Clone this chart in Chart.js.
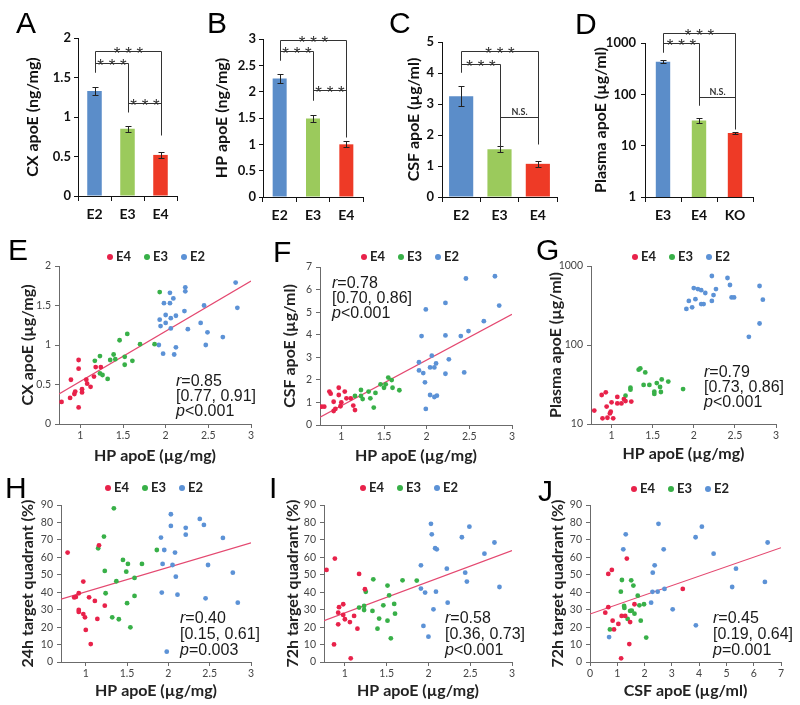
<!DOCTYPE html>
<html>
<head>
<meta charset="utf-8">
<script src="https://cdn.jsdelivr.net/npm/chart.js@4.4.1/dist/chart.umd.min.js"></script>
<style>
  html, body { margin: 0; background: #fff; }
  body { position: relative; width: 800px; height: 705px; overflow: hidden; }
  canvas { position: absolute; }
  .letter { position: absolute; font: 30px 'Liberation Sans', Arial, sans-serif; line-height: 30px; color: #000; }
  .legend { position: absolute; font: bold 13px Lato, sans-serif; color: #222; white-space: nowrap; line-height: 14px; }
  .legend .item { display: inline-block; width: 37px; }
  .legend i { display: inline-block; width: 6px; height: 6px; border-radius: 50%; margin-right: 3px; vertical-align: 1px; }
  .stat { position: absolute; font: 16px 'Liberation Sans', Arial, sans-serif; color: #1a1a1a; line-height: 15px; white-space: nowrap; }
</style>
</head>
<body>
<script>
// ---------- bar panels A-D ----------
const barCats = ['E2', 'E3', 'E4'];
const barCatsD = ['E3', 'E4', 'KO'];
const cxApoE = [1.33, 0.85, 0.52];
const cxErr = [0.05, 0.04, 0.04];
const hpApoE = [2.25, 1.49, 1.0];
const hpErr = [0.09, 0.07, 0.06];
const csfApoE = [3.25, 1.54, 1.07];
const csfErr = [0.33, 0.09, 0.09];
const plasmaApoE = [433, 31, 17.7];
const plasmaErr = [30, 3.3, 0.9];
const plasmaTicks = [1, 10, 100, 1000];
// brackets: [from, to, level, left leg end, right leg end, label] (data units)
const sigA = [[0, 2, 1.83, 1.57, 0.77, '***'], [0, 1, 1.68, 1.57, 1.06, '***'], [1, 2, 1.18, 1.09, 1.18, '***']];
const sigB = [[0, 2, 2.99, 2.60, 1.14, '***'], [0, 1, 2.78, 2.60, 1.84, '***'], [1, 2, 2.03, 1.84, 2.03, '***']];
const sigC = [[0, 2, 4.71, 4.03, 1.72, '***'], [0, 1, 4.30, 4.03, 1.61, '***'], [1, 2, 2.58, 2.26, 2.58, 'N.S.']];
const sigD = [[0, 2, 1590, 668, 21.4, '***'], [0, 1, 1000, 668, 61, '***'], [1, 2, 88.7, 61, 88.7, 'N.S.']];

// ---------- scatter panels E-J ----------
const groupNames = ['E4', 'E3', 'E2'];

const E_E4 = [[0.78,0.28],[0.88,0.33],[0.89,0.56],[0.93,0.38],[0.94,0.41],[0.98,0.81],[0.98,0.70],[0.98,0.21],[1.02,0.44],[1.02,0.40],[1.07,0.56],[1.08,0.51],[1.12,0.47],[1.16,0.60],[1.18,0.72],[1.24,0.72]];
const E_E3 = [[1.17,0.80],[1.23,0.86],[1.23,0.64],[1.26,0.62],[1.32,0.57],[1.35,0.81],[1.39,0.88],[1.41,0.82],[1.46,1.06],[1.52,0.85],[1.52,0.75],[1.55,1.14],[1.61,0.80],[1.70,1.01],[1.87,1.01],[1.93,1.67]];
const E_E2 = [[1.93,1.32],[1.94,1.24],[1.98,1.53],[2.00,1.38],[2.00,1.28],[2.05,1.66],[2.05,1.53],[2.06,1.34],[2.06,1.21],[2.09,1.59],[2.12,1.37],[2.12,0.97],[2.10,0.88],[1.92,1.00],[1.97,0.89],[2.23,1.73],[2.23,1.68],[2.22,1.43],[2.26,1.20],[2.41,1.28],[2.45,1.50],[2.47,1.00],[2.49,1.16],[2.67,1.10],[2.82,1.79],[2.84,1.47]];
const E_fit = [[0.75,0.38],[3,1.81]];

const F_E4 = [[0.77,0.81],[0.80,0.81],[0.86,1.48],[0.875,1.39],[0.91,1.03],[0.91,0.62],[0.93,0.71],[0.97,1.65],[0.97,1.33],[0.99,0.83],[1.00,1.00],[1.04,1.48],[1.06,1.18],[1.11,1.18],[1.14,0.86],[1.16,0.66]];
const F_E3 = [[1.16,1.29],[1.23,1.55],[1.23,1.29],[1.25,1.15],[1.32,1.48],[1.34,1.18],[1.38,0.77],[1.40,1.42],[1.46,1.80],[1.50,1.65],[1.52,1.80],[1.55,2.10],[1.59,1.99],[1.60,1.65],[1.68,1.54]];
const F_E2 = [[1.94,3.94],[1.99,5.12],[2.22,5.41],[2.22,3.97],[2.40,3.94],[2.49,4.16],[2.67,4.60],[2.85,5.29],[2.46,6.49],[2.80,6.59],[1.91,2.78],[1.91,2.42],[1.96,2.30],[1.98,1.89],[1.99,0.71],[2.04,2.55],[2.04,1.33],[2.06,3.07],[2.09,1.24],[2.09,2.55],[2.11,2.73],[2.12,1.30],[2.22,2.27],[2.26,2.91],[2.44,2.33]];
const F_fit = [[0.75,0.35],[3,4.9]];

const G_E4 = [[0.79,14.8],[0.88,23.3],[0.89,11.8],[0.93,25.2],[0.94,16.6],[0.95,12.0],[0.98,13.6],[0.99,14.3],[1.00,18.8],[1.02,11.8],[1.07,22.0],[1.07,18.2],[1.12,18.2],[1.15,20.7],[1.17,19.5],[1.24,19.2]];
const G_E3 = [[1.17,22.8],[1.23,28.8],[1.23,27.2],[1.33,48.7],[1.35,50.5],[1.39,31.2],[1.41,45.0],[1.46,31.2],[1.52,25.6],[1.52,24.0],[1.55,33.0],[1.59,29.4],[1.61,36.7],[1.60,25.4],[1.69,34.4],[1.87,27.7]];
const G_E2 = [[1.91,286],[1.94,361],[1.98,300],[2.00,525],[2.02,380],[2.05,510],[2.09,494],[2.09,330],[2.12,330],[2.14,455],[2.22,747],[2.22,361],[2.24,428],[2.27,510],[2.41,705],[2.44,575],[2.46,400],[2.49,400],[2.67,127],[2.80,187],[2.80,558],[2.84,375]];
const G_ticks = [10, 100, 1000];

const H_E4 = [[0.78,62.7],[0.86,37.0],[0.88,37.3],[0.915,39.4],[0.915,29.8],[0.915,28.7],[0.97,46.1],[0.97,27.5],[0.99,25.6],[1.00,18.4],[1.04,37.1],[1.06,10.3],[1.11,35.0],[1.14,24.7],[1.16,66.9],[1.23,32.3]];
const H_E3 = [[1.15,65.2],[1.22,71.9],[1.23,52.2],[1.24,39.4],[1.32,25.6],[1.34,88.1],[1.37,46.3],[1.40,24.5],[1.45,58.5],[1.49,51.8],[1.50,33.7],[1.51,56.2],[1.54,19.9],[1.59,48.2],[1.59,37.9],[1.68,56.2],[1.86,64.2]];
const H_E2 = [[1.91,71.3],[1.92,39.8],[1.93,56.2],[1.95,64.2],[1.98,5.9],[2.03,84.7],[2.03,78.0],[2.05,55.6],[2.08,62.7],[2.09,48.9],[2.11,38.6],[2.21,76.9],[2.21,73.0],[2.38,82.0],[2.43,78.6],[2.45,36.5],[2.48,55.6],[2.66,71.1],[2.78,51.2],[2.84,34.0]];
const H_fit = [[0.7,36],[3,68.3]];

const I_E4 = [[0.78,52.8],[0.87,10.1],[0.88,59.3],[0.92,28.3],[0.93,31.4],[0.92,21.6],[0.98,33.1],[0.98,27.0],[1.00,24.5],[1.06,22.9],[1.07,2.1],[1.11,26.4],[1.15,19.1],[1.17,50.5],[1.24,41.7]];
const I_E3 = [[1.17,31.2],[1.23,32.1],[1.23,29.8],[1.25,40.2],[1.33,29.3],[1.34,47.4],[1.39,19.1],[1.41,24.9],[1.46,32.5],[1.51,43.8],[1.51,23.7],[1.53,38.2],[1.55,13.6],[1.59,33.3],[1.60,27.7],[1.69,46.8],[1.86,46.7]];
const I_E2 = [[1.91,55.4],[1.91,42.1],[1.94,20.7],[1.96,39.8],[2.00,14.5],[2.03,79.2],[2.04,73.2],[2.06,30.2],[2.08,65.2],[2.10,64.6],[2.09,40.3],[2.22,53.5],[2.23,34.0],[2.40,71.5],[2.44,51.2],[2.46,46.1],[2.49,77.6],[2.67,62.1],[2.79,68.5],[2.85,43.0]];
const I_fit = [[0.75,23.7],[3,63.9]];

const J_E4 = [[0.56,28.3],[0.67,50.5],[0.67,31.4],[0.80,52.8],[0.83,23.7],[0.88,18.7],[1.04,21.8],[1.16,26.4],[1.14,2.1],[1.29,26.4],[1.35,59.3],[1.44,10.3],[1.47,22.9],[1.63,33.1],[3.40,41.9]];
const J_E3 = [[0.73,18.7],[1.13,40.3],[1.17,47.0],[1.25,32.1],[1.26,31.0],[1.38,24.7],[1.47,29.3],[1.51,46.8],[1.53,29.4],[1.59,43.8],[1.63,27.7],[1.75,38.0],[1.81,32.5],[1.86,23.7],[1.98,33.1],[2.06,14.0]];
const J_E2 = [[0.70,14.3],[1.22,64.6],[1.31,73.2],[2.24,34.0],[2.29,40.2],[2.30,51.2],[2.37,55.4],[2.48,40.3],[2.51,79.2],[2.70,64.6],[2.73,41.9],[3.03,30.2],[3.87,71.5],[3.88,21.0],[4.10,77.6],[4.53,62.1],[5.21,43.0],[5.35,53.5],[6.41,45.9],[6.51,68.5]];
const J_fit = [[0,27.5],[7,65.5]];

const statsText = {
  E: ['<i>r</i>=0.85', '[0.77, 0.91]', '<i>p</i>&lt;0.001'],
  F: ['<i>r</i>=0.78', '[0.70, 0.86]', '<i>p</i>&lt;0.001'],
  G: ['<i>r</i>=0.79', '[0.73, 0.86]', '<i>p</i>&lt;0.001'],
  H: ['<i>r</i>=0.40', '[0.15, 0.61]', '<i>p</i>=0.003'],
  I: ['<i>r</i>=0.58', '[0.36, 0.73]', '<i>p</i>&lt;0.001'],
  J: ['<i>r</i>=0.45', '[0.19, 0.64]', '<i>p</i>=0.001']
};

// ---------- styling ----------
const barColors = ['#5b8dc9', '#9bca5c', '#ee3a26'];
const dotColors = ['rgb(232,34,74)', 'rgb(56,176,72)', 'rgb(92,146,214)'];
const fitColor = 'rgb(228,72,112)';
const TITLE = 16, HALF = TITLE * 1.2 / 2;
Chart.defaults.font.family = 'Lato';

function addCanvas(x, y, w, h) {
  const c = document.createElement('canvas');
  c.width = w; c.height = h;
  c.style.left = x + 'px'; c.style.top = y + 'px';
  c.style.width = w + 'px'; c.style.height = h + 'px';
  document.body.appendChild(c);
  return c;
}
const num = v => String(+Number(v).toFixed(2));
const bold = s => ({family: 'Lato', size: s, weight: 'bold'});

function barExtras(err, sig) {
  return {
    id: 'barExtras',
    afterDatasetsDraw(chart) {
      const ctx = chart.ctx, ys = chart.scales.y;
      const bars = chart.getDatasetMeta(0).data;
      const vals = chart.data.datasets[0].data;
      const py = v => Math.round(ys.getPixelForValue(v)) + 0.5;
      ctx.save();
      ctx.lineWidth = 1;
      ctx.strokeStyle = '#222';
      bars.forEach((b, i) => {
        const x = Math.round(b.x) + 0.5, t = py(vals[i] + err[i]), lo = py(vals[i] - err[i]);
        ctx.beginPath();
        ctx.moveTo(x, t); ctx.lineTo(x, lo);
        ctx.moveTo(x - 3, t); ctx.lineTo(x + 3, t);
        ctx.moveTo(x - 3, lo); ctx.lineTo(x + 3, lo);
        ctx.stroke();
      });
      ctx.strokeStyle = '#333';
      ctx.fillStyle = '#333';
      ctx.textAlign = 'center';
      ctx.textBaseline = 'alphabetic';
      sig.forEach(([i, j, lev, l, r, txt]) => {
        const xi = Math.round(bars[i].x) + 0.5, xj = Math.round(bars[j].x) + 0.5, y = py(lev);
        ctx.beginPath();
        ctx.moveTo(xi, py(l)); ctx.lineTo(xi, y); ctx.lineTo(xj, y); ctx.lineTo(xj, py(r));
        ctx.stroke();
        if (txt === 'N.S.') {
          ctx.font = 'bold 9px Lato';
          ctx.fillText(txt, (xi + xj) / 2, y - 3);
        } else {
          ctx.font = '17px "Liberation Sans"';
          ctx.fillText('* * *', (xi + xj) / 2, y + 7);
        }
      });
      ctx.restore();
    }
  };
}

function barPanel(p) {
  const [L, T, R, B] = p.plot;
  const x0 = Math.round(p.titleX - HALF), w = R + 10 - x0, h = B + 36;
  const cv = addCanvas(x0, 0, w, h);
  const y = {
    type: p.log ? 'logarithmic' : 'linear',
    min: p.yMin, max: p.yMax,
    border: {color: '#111'},
    grid: {drawOnChartArea: false, tickLength: 4, color: '#111'},
    ticks: {font: bold(13), color: '#111', padding: p.tickPad, stepSize: p.step, callback: v => num(v)},
    title: {display: true, text: p.title, font: bold(TITLE), color: '#111', padding: 0},
    afterFit: s => { s.width = L - x0; }
  };
  if (p.yTicks) y.afterBuildTicks = s => { s.ticks = p.yTicks.map(v => ({value: v})); };
  new Chart(cv, {
    type: 'bar',
    data: {labels: p.cats, datasets: [{data: p.vals, backgroundColor: barColors, barPercentage: p.barPct, categoryPercentage: 1}]},
    options: {
      responsive: false, animation: false,
      layout: {padding: {left: 0, top: T, right: 10, bottom: 0}},
      plugins: {legend: {display: false}, tooltip: {enabled: false}},
      scales: {
        x: {
          border: {color: '#111'},
          grid: {drawOnChartArea: false, tickLength: 5, color: '#111', offset: true},
          ticks: {font: bold(14), color: '#111', padding: 5},
          afterFit: s => { s.height = h - B; }
        },
        y: y
      }
    },
    plugins: [barExtras(p.err, p.sig)]
  });
}

function scatterPanel(p) {
  const [L, T, R, B] = p.plot;
  const x0 = Math.round(p.yTitleX - HALF), y0 = T - 12;
  const h = Math.round(p.xTitleY + HALF) - y0, w = R + 10 - x0;
  const cv = addCanvas(x0, y0, w, h);
  const sets = p.groups.map((g, k) => ({
    data: g.map(([x, y]) => ({x, y})), backgroundColor: dotColors[k], pointRadius: 2.4, borderWidth: 0
  }));
  if (p.fit) sets.push({data: p.fit.map(([x, y]) => ({x, y})), showLine: true, borderColor: fitColor, borderWidth: 1.2, pointRadius: 0});
  const ax = '#6b6b6b';
  const tickFont = {family: 'Lato', size: 10.5};
  const y = {
    type: p.yLog ? 'logarithmic' : 'linear', min: p.yRange[0], max: p.yRange[1],
    border: {color: ax},
    grid: {drawOnChartArea: false, tickLength: 4, color: ax},
    ticks: {font: tickFont, color: '#444', padding: 4, stepSize: p.yStep, callback: v => num(v)},
    title: {display: true, text: p.yTitle, font: bold(TITLE), color: '#222', padding: 0},
    afterFit: s => { s.width = L - x0; }
  };
  if (p.yTicks) y.afterBuildTicks = s => { s.ticks = p.yTicks.map(v => ({value: v})); };
  new Chart(cv, {
    type: 'scatter',
    data: {datasets: sets},
    options: {
      responsive: false, animation: false,
      layout: {padding: {left: 0, top: 12, right: 10, bottom: 0}},
      plugins: {legend: {display: false}, tooltip: {enabled: false}},
      scales: {
        x: {
          type: 'linear', min: p.xRange[0], max: p.xRange[1],
          border: {color: ax},
          grid: {drawOnChartArea: false, tickLength: 4, color: ax},
          ticks: {font: tickFont, color: '#444', padding: 1, stepSize: p.xStep, includeBounds: false, callback: v => num(v)},
          title: {display: true, text: p.xTitle, font: bold(TITLE), color: '#222', padding: 0},
          afterFit: s => { s.height = y0 + h - B; }
        },
        y: y
      }
    }
  });
}

function letter(ch, x, y) {
  const d = document.createElement('div');
  d.className = 'letter'; d.textContent = ch;
  d.style.left = x + 'px'; d.style.top = y + 'px';
  document.body.appendChild(d);
}
function legend(cx, cy) {
  const d = document.createElement('div');
  d.className = 'legend';
  d.style.left = (cx - 3) + 'px'; d.style.top = (cy - 8) + 'px';
  d.innerHTML = groupNames.map((n, k) => `<span class="item"><i style="background:${dotColors[k]}"></i>${n}</span>`).join('');
  document.body.appendChild(d);
}
function stat(lines, x, y, lh) {
  const d = document.createElement('div');
  d.className = 'stat';
  d.style.left = x + 'px'; d.style.top = y + 'px'; d.style.lineHeight = lh + 'px';
  d.innerHTML = lines.join('<br>');
  document.body.appendChild(d);
}

// ---------- build ----------
barPanel({plot: [78, 38, 177, 196], titleX: 33, cats: barCats, vals: cxApoE, err: cxErr, sig: sigA,
  yMin: 0, yMax: 2, step: 0.5, title: 'CX apoE (ng/mg)', barPct: 0.44, tickPad: 3});
barPanel({plot: [263, 39, 363, 197], titleX: 222, cats: barCats, vals: hpApoE, err: hpErr, sig: sigB,
  yMin: 0, yMax: 3, step: 0.5, title: 'HP apoE (ng/mg)', barPct: 0.42, tickPad: 3});
barPanel({plot: [442, 42, 557, 197], titleX: 414, cats: barCats, vals: csfApoE, err: csfErr, sig: sigC,
  yMin: 0, yMax: 5, step: 1, title: 'CSF apoE (µg/ml)', barPct: 0.63, tickPad: 4});
barPanel({plot: [645, 43, 753, 197], titleX: 601, cats: barCatsD, vals: plasmaApoE, err: plasmaErr, sig: sigD,
  yMin: 1, yMax: 1000, log: true, yTicks: plasmaTicks, title: 'Plasma apoE (µg/ml)', barPct: 0.4, tickPad: 5});

scatterPanel({plot: [59, 266, 251, 424], yTitleX: 28, xTitleY: 455, groups: [E_E4, E_E3, E_E2], fit: E_fit,
  xRange: [0.75, 3], xStep: 0.5, yRange: [0, 2], yStep: 0.5, xTitle: 'HP apoE (µg/mg)', yTitle: 'CX apoE (µg/mg)'});
scatterPanel({plot: [320, 267, 512, 425], yTitleX: 290, xTitleY: 455, groups: [F_E4, F_E3, F_E2], fit: F_fit,
  xRange: [0.75, 3], xStep: 0.5, yRange: [0, 7], yStep: 1, xTitle: 'HP apoE (µg/mg)', yTitle: 'CSF apoE (µg/ml)'});
scatterPanel({plot: [591, 266, 776, 424], yTitleX: 556, xTitleY: 453, groups: [G_E4, G_E3, G_E2],
  xRange: [0.75, 3], xStep: 0.5, yRange: [10, 1000], yLog: true, yTicks: G_ticks, xTitle: 'HP apoE (µg/mg)', yTitle: 'Plasma apoE (µg/ml)'});
scatterPanel({plot: [61, 505, 251, 662], yTitleX: 28, xTitleY: 690, groups: [H_E4, H_E3, H_E2], fit: H_fit,
  xRange: [0.7, 3], xStep: 0.5, yRange: [0, 90], yStep: 10, xTitle: 'HP apoE (µg/mg)', yTitle: '24h target quadrant (%)'});
scatterPanel({plot: [324, 505, 512, 662], yTitleX: 293, xTitleY: 690, groups: [I_E4, I_E3, I_E2], fit: I_fit,
  xRange: [0.75, 3], xStep: 0.5, yRange: [0, 90], yStep: 10, xTitle: 'HP apoE (µg/mg)', yTitle: '72h target quadrant (%)'});
scatterPanel({plot: [590, 505, 781, 662], yTitleX: 558, xTitleY: 690, groups: [J_E4, J_E3, J_E2], fit: J_fit,
  xRange: [0, 7], xStep: 1, yRange: [0, 90], yStep: 10, xTitle: 'CSF apoE (µg/ml)', yTitle: '72h target quadrant (%)'});

legend(110, 257); legend(364, 257); legend(635, 257);
legend(108, 488); legend(363, 488); legend(634, 489);

stat(statsText.E, 176, 373, 15);
stat(statsText.F, 332, 275, 15);
stat(statsText.G, 704, 364, 15);
stat(statsText.H, 180, 610, 16);
stat(statsText.I, 445, 610, 16);
stat(statsText.J, 713, 610, 16);

letter('A', 16, 8); letter('B', 207, 8); letter('C', 389, 8); letter('D', 575, 9);
letter('E', 8, 235); letter('F', 273, 237); letter('G', 536, 235);
letter('H', 5, 473); letter('I', 269, 473); letter('J', 538, 476);
</script>
</body>
</html>
